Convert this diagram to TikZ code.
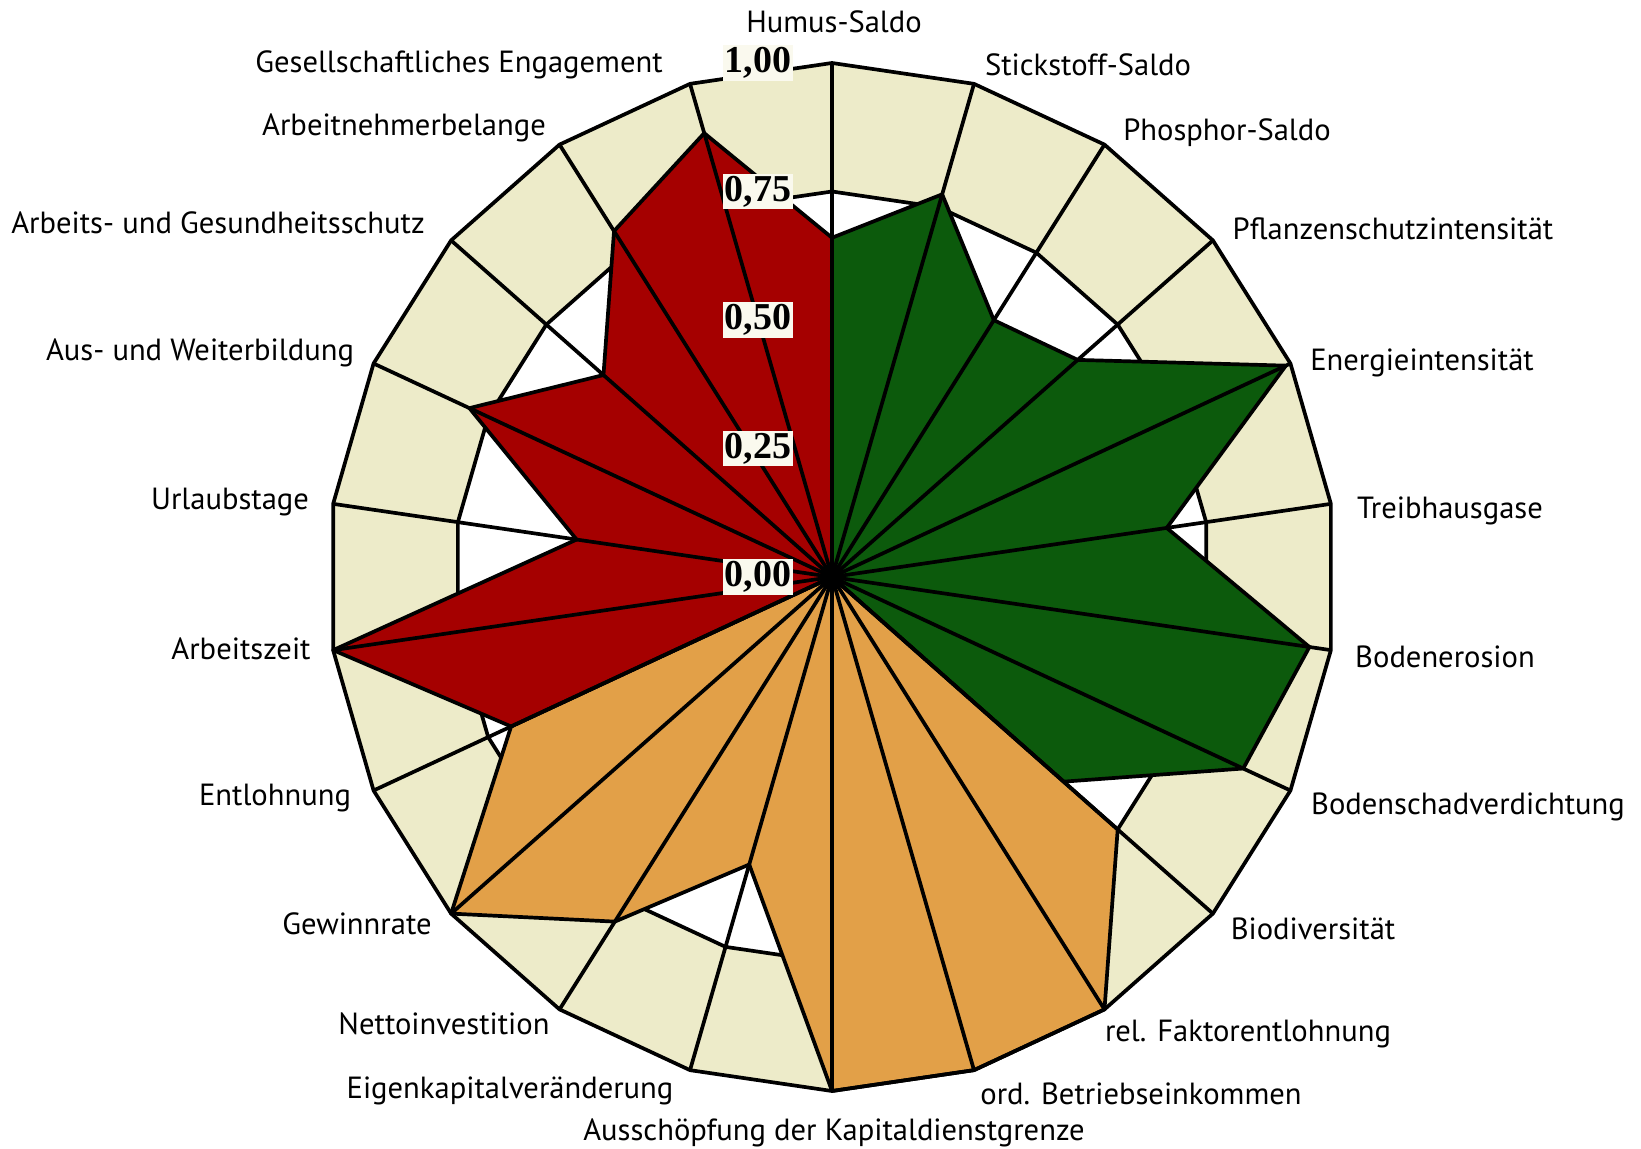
\documentclass[tikz,border=0pt]{standalone}
\usepackage{fontspec}
\newfontfamily\labelfont{PT Sans}
\newfontfamily\tickfont{Liberation Serif}
\usepackage{tikz}
\usetikzlibrary{positioning}
\definecolor{band}{RGB}{237,235,201}
\definecolor{oeko}{RGB}{12,90,12}
\definecolor{oekon}{RGB}{226,160,72}
\definecolor{sozial}{RGB}{165,0,0}
\definecolor{tickbg}{RGB}{250,249,238}
\tikzset{
	axislabel/.style={font=\labelfont\fontsize{15.3}{18}\selectfont, inner sep=0pt, text height=0.72em, text depth=0.22em, yshift=-2.5pt},
	ticklabel/.style={font=\tickfont\bfseries\fontsize{19}{21}\selectfont, fill=tickbg, inner sep=1pt},
}

\begin{document}
\begin{tikzpicture}[x=0.5pt, y=-0.5pt]
			\useasboundingbox (0,0) rectangle (1641,1149);
			\begin{scope}[shift={(416pt,-288.5pt)}, x=252pt, y=257pt, line width=1.85pt, line join=round]
				\coordinate (o) at (0,0);
				\foreach \i in {0,...,21} {
					\coordinate (a\i) at ({90-\i*360/22}:1);
					\coordinate (m\i) at ({90-\i*360/22}:0.75);
				}
				\fill[band] (a0) \foreach \i in {1,...,21} { -- (a\i) } -- cycle;
				\filldraw[fill=white] (m0) \foreach \i in {1,...,21} { -- (m\i) } -- cycle;
				\filldraw[fill=oeko] (o) \foreach \v [count=\i from 0] in {0.66,0.776,0.594,0.645,0.99,0.671,0.957,0.897,0.608} { -- ({90-\i*360/22}:\v) } -- cycle;
				\filldraw[fill=oekon] (o) \foreach \v [count=\i from 8] in {0.75,1,1,1,0.583,0.797,1,0.70} { -- ({90-\i*360/22}:\v) } -- cycle;
				\filldraw[fill=sozial] (o) \foreach \v [count=\i from 15] in {0.70,1,0.512,0.791,0.60,0.80,0.90,0.66} { -- ({90-\i*360/22}:\v) } -- cycle;
				\foreach \i in {0,...,21} \draw (o) -- (a\i);
				\draw (a0) \foreach \i in {1,...,21} { -- (a\i) } -- cycle;
				\fill (o) circle[radius=4pt];
				\node[ticklabel] (t100) at ([xshift=-37pt]a0) {1,00};
				\node[ticklabel] (t075) at ([xshift=-37pt]m0) {0,75};
				\node[ticklabel] (t050) at ([xshift=-37pt]0,0.5) {0,50};
				\node[ticklabel] (t025) at ([xshift=-37pt]0,0.25) {0,25};
				\node[ticklabel] (t000) at ([xshift=-37pt]o) {0,00};
			\end{scope}
			\node[axislabel] (humus) at (834,23) {Humus-Saldo};
			\node[axislabel] (stick) at (1088,66) {Stickstoff-Saldo};
			\node[axislabel] (phos) at (1227,131) {Phosphor-Saldo};
			\node[axislabel] (pflanz) at (1393,230) {Pflanzenschutzintensität};
			\node[axislabel] (energie) at (1422,361) {Energieintensität};
			\node[axislabel] (treib) at (1450,508) {Treibhausgase};
			\node[axislabel] (erosion) at (1445,657) {Bodenerosion};
			\node[axislabel] (verdicht) at (1468,804) {Bodenschadverdichtung};
			\node[axislabel] (biodiv) at (1313,929) {Biodiversität};
			\node[axislabel] (faktor) at (1248,1031) {rel. Faktorentlohnung};
			\node[axislabel] (betrieb) at (1141,1094) {ord. Betriebseinkommen};
			\node[axislabel] (kapital) at (834,1130) {Ausschöpfung der Kapitaldienstgrenze};
			\node[axislabel] (eigen) at (510,1088) {Eigenkapitalveränderung};
			\node[axislabel] (netto) at (444,1024) {Nettoinvestition};
			\node[axislabel] (gewinn) at (357,924) {Gewinnrate};
			\node[axislabel] (lohn) at (275,795) {Entlohnung};
			\node[axislabel] (zeit) at (241,649) {Arbeitszeit};
			\node[axislabel] (urlaub) at (230,499) {Urlaubstage};
			\node[axislabel] (bildung) at (200,351) {Aus- und Weiterbildung};
			\node[axislabel] (schutz) at (218,224) {Arbeits- und Gesundheitsschutz};
			\node[axislabel] (belange) at (404,126) {Arbeitnehmerbelange};
			\node[axislabel] (engage) at (459,63) {Gesellschaftliches Engagement};
		\end{tikzpicture}
\end{document}
